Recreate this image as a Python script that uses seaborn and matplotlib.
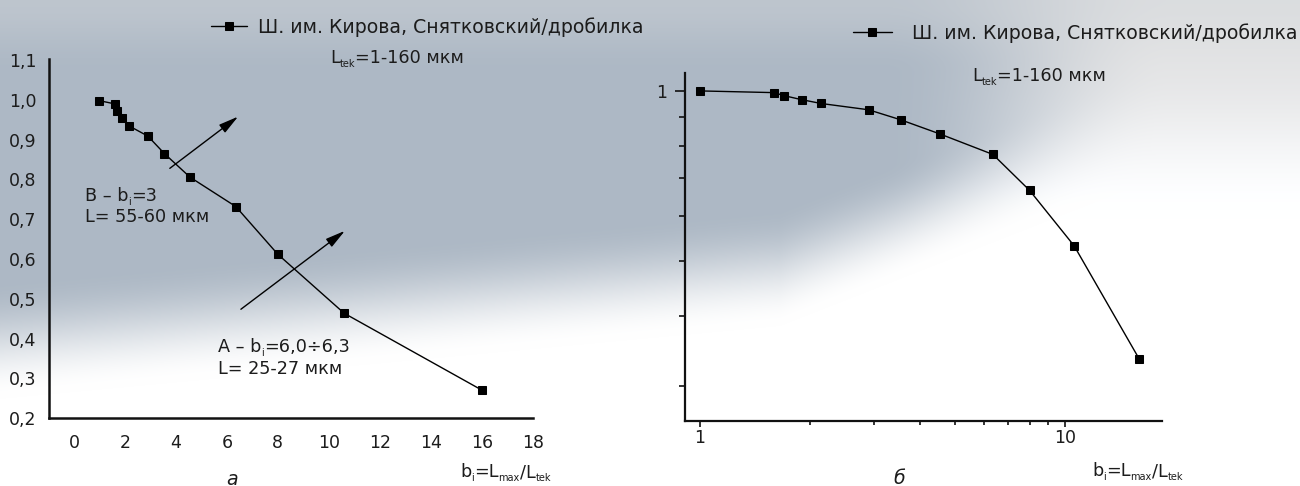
import numpy as np
import matplotlib
matplotlib.use("Agg")
import matplotlib.pyplot as plt
from matplotlib.ticker import FixedLocator, FuncFormatter, LogLocator, NullFormatter
import seaborn as sns

# --- data -------------------------------------------------------------
# relative size b_i = L_max / L_tek
b_ratio = [1.0, 1.6, 1.7, 1.9, 2.15, 2.9, 3.55, 4.55, 6.35, 8.0, 10.6, 16.0]
# cumulative fraction, linear chart (a)
share_lin = [0.998, 0.990, 0.972, 0.954, 0.935, 0.909, 0.865, 0.806, 0.732, 0.612, 0.464, 0.271]
# cumulative fraction, log-log chart (б)
share_log = [1.0, 0.993, 0.981, 0.965, 0.950, 0.926, 0.889, 0.839, 0.772, 0.667, 0.532, 0.335]

series_name = "Ш. им. Кирова, Снятковский/дробилка"

lin_xticks = [0, 2, 4, 6, 8, 10, 12, 14, 16, 18]
lin_yticks = [0.2, 0.3, 0.4, 0.5, 0.6, 0.7, 0.8, 0.9, 1.0, 1.1]

# annotation arrows (tail -> head, data coordinates of chart a)
arrow_b = [(3.76, 0.828), (6.44, 0.958)]
arrow_a = [(6.55, 0.474), (10.63, 0.671)]

# text runs: (string, is_subscript)
note_range = [("L", False), ("tek", True), ("=1-160 мкм", False)]
note_b = [("В – b", False), ("i", True), ("=3", False)]
note_a = [("А – b", False), ("i", True), ("=6,0÷6,3", False)]
axis_title = [("b", False), ("i", True), ("=L", False), ("max", True), ("/L", False), ("tek", True)]

# --- style ------------------------------------------------------------
sns.set_theme(style="ticks")
plt.rcParams["font.family"] = ["DejaVu Sans"]
FS_TICK = 12.5
FS_TEXT = 12.7
FS_LEG = 13.6
INK = "#1c1c1c"

W, H = 1300, 486
fig = plt.figure(figsize=(W / 100, H / 100), dpi=100)

# backdrop: blue-grey wash that fades to white towards the bottom and right
yy, xx = np.mgrid[0:H, 0:W]
u = xx / W
v = yy / H


def smooth(t):
    t = np.clip(t, 0, 1)
    return t * t * (3 - 2 * t)


v_end = 0.82 - 0.25 * u - 0.8 * np.maximum(u - 0.6, 0)
vert = smooth((v_end - v) / 0.24)
horiz = smooth((0.9 - u) / 0.22)
a = (vert * horiz)[..., None]
haze = 1 - 0.11 * smooth((0.45 - v) / 0.35)
base = np.dstack([haze, haze * 1.003, haze * 1.008]).clip(0, 1)
blue = np.array([0.68, 0.724, 0.773])
img = base * (1 - a) + blue * a
top = (0.45 * smooth((0.15 - v) / 0.15))[..., None]
img = img * (1 - top) + np.array([0.82, 0.835, 0.85]) * top

bg = fig.add_axes([0, 0, 1, 1], zorder=0)
bg.imshow(img, aspect="auto", interpolation="bilinear")
bg.axis("off")


def px_box(x0, y0, x1, y1):
    return [x0 / W, 1 - y1 / H, (x1 - x0) / W, (y1 - y0) / H]


def fig_xy(x, y):
    return x / W, 1 - y / H


renderer = fig.canvas.get_renderer()


def rich_text(x_px, y_center_px, runs, fs=FS_TEXT):
    """Write a line left to right, with small lowered subscripts."""
    em = fs * 100 / 72
    x = x_px / W
    base_y = 1 - (y_center_px + 0.36 * em) / H
    for s, sub in runs:
        size = fs * 0.55 if sub else fs
        dy = -0.2 * em / H if sub else 0
        t = fig.text(x, base_y + dy, s, fontsize=size, va="baseline", ha="left",
                     color=INK, zorder=5)
        x += t.get_window_extent(renderer).width / W
        if s.endswith(" "):
            x += 0.3 * size * 100 / 72 / W


line_kw = dict(color="black", linewidth=1.0, marker="s", markersize=5.2,
               markeredgecolor="black", markerfacecolor="black")

# --- chart (a): linear axes --------------------------------------------
axL = fig.add_axes(px_box(49, 59.3, 532.7, 418.3), zorder=1)
axL.patch.set_alpha(0)
sns.lineplot(x=b_ratio, y=share_lin, ax=axL, label=series_name, **line_kw)
axL.set_xlim(-0.98, 18.0)
axL.set_ylim(0.2, 1.102)
axL.xaxis.set_major_locator(FixedLocator(lin_xticks))
axL.yaxis.set_major_locator(FixedLocator(lin_yticks))
axL.yaxis.set_major_formatter(FuncFormatter(lambda val, pos: f"{val:.1f}".replace(".", ",")))
axL.tick_params(axis="both", length=0, labelsize=FS_TICK, colors=INK)
axL.tick_params(axis="y", pad=9)
axL.tick_params(axis="x", pad=11)
for side in ("top", "right"):
    axL.spines[side].set_visible(False)
for side in ("left", "bottom"):
    axL.spines[side].set_linewidth(1.8)
    axL.spines[side].set_color("#111111")
axL.set_xlabel("")
axL.set_ylabel("")

for tail, head in (arrow_b, arrow_a):
    axL.annotate("", xy=head, xytext=tail,
                 arrowprops=dict(arrowstyle="-|>,head_length=1.0,head_width=0.25",
                                 color="black", lw=1.0, mutation_scale=12,
                                 shrinkA=0, shrinkB=0))

axL.legend(loc="center left", bbox_to_anchor=fig_xy(211, 27),
           bbox_transform=fig.transFigure, frameon=False, borderpad=0,
           borderaxespad=0, handlelength=1.9, handletextpad=0.6,
           fontsize=FS_LEG, numpoints=1, labelcolor=INK)

rich_text(330, 57, note_range)
rich_text(85, 195, note_b)
rich_text(85, 216, [("L= 55-60 мкм", False)])
rich_text(218, 346, note_a)
rich_text(218, 368, [("L= 25-27 мкм", False)])
rich_text(460, 471, axis_title)
fig.text(*fig_xy(232, 479), "а", fontsize=FS_TEXT + 1, va="center", ha="center",
         style="italic", color=INK)

# --- chart (б): log-log axes --------------------------------------------
axR = fig.add_axes(px_box(685, 72.7, 1161.6, 421), zorder=1)
axR.patch.set_alpha(0)
sns.lineplot(x=b_ratio, y=share_log, ax=axR, label=series_name, **line_kw)
axR.set_xscale("log")
axR.set_yscale("log")
axR.set_xlim(0.911, 18.4)
axR.set_ylim(0.2606, 1.077)
axR.xaxis.set_major_locator(FixedLocator([1, 10]))
axR.xaxis.set_major_formatter(FuncFormatter(lambda val, pos: f"{val:g}"))
axR.xaxis.set_minor_locator(LogLocator(base=10, subs=np.arange(2, 10)))
axR.xaxis.set_minor_formatter(NullFormatter())
axR.yaxis.set_major_locator(FixedLocator([1]))
axR.yaxis.set_major_formatter(FuncFormatter(lambda val, pos: f"{val:g}"))
axR.yaxis.set_minor_locator(LogLocator(base=10, subs=np.arange(2, 10)))
axR.yaxis.set_minor_formatter(NullFormatter())
axR.tick_params(axis="both", which="both", direction="out", width=1.2,
                color="#111111", labelsize=FS_TICK, labelcolor=INK)
axR.tick_params(axis="x", which="major", length=4, pad=2)
axR.tick_params(axis="x", which="minor", length=3)
axR.tick_params(axis="y", which="major", length=7, pad=6)
axR.tick_params(axis="y", which="minor", length=4)
for side in ("top", "right"):
    axR.spines[side].set_visible(False)
for side in ("left", "bottom"):
    axR.spines[side].set_linewidth(1.6)
    axR.spines[side].set_color("#111111")
axR.set_xlabel("")
axR.set_ylabel("")

axR.legend(loc="center left", bbox_to_anchor=fig_xy(853, 33), bbox_transform=fig.transFigure,
           frameon=False, borderpad=0, borderaxespad=0, handlelength=2.05,
           handletextpad=1.05, fontsize=FS_LEG, numpoints=1, labelcolor=INK)

rich_text(972, 75, note_range)
rich_text(1092, 470, axis_title)
fig.text(*fig_xy(899, 478), "б", fontsize=FS_TEXT + 1, va="center", ha="center",
         style="italic", color=INK)

fig.savefig("out.png", dpi=100)
